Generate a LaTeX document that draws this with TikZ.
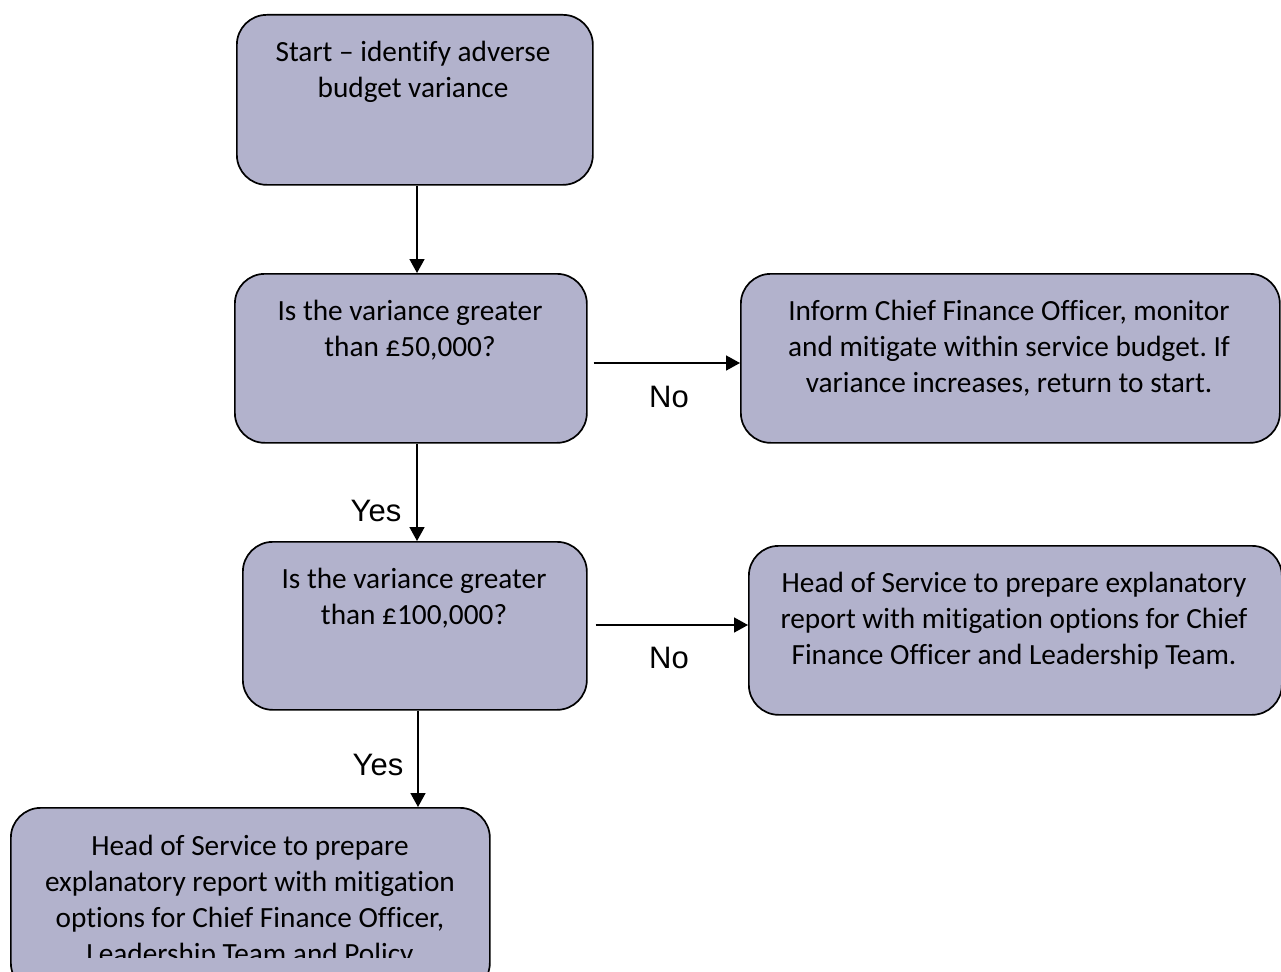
\documentclass[tikz,border=0pt]{standalone}
\usepackage{fontspec}
\setmainfont[Ligatures=NoCommon]{Carlito}
\newfontfamily\arialfont{Liberation Sans}
\usetikzlibrary{arrows.meta}
\definecolor{boxfill}{RGB}{178,178,204}
\frenchspacing
\tikzset{
 box/.style={draw=black, line width=1.7pt, fill=boxfill, rounded corners=30pt, inner sep=0, anchor=north west},
 btext/.style={font=\fontsize{29.3}{36}\selectfont, align=center, anchor=north, inner sep=0},
 lbl/.style={font=\arialfont\fontsize{31}{36}\selectfont, inner sep=0, anchor=base},
 arr/.style={-{Triangle[length=14pt,width=15pt]}, line width=1.6pt}
}
\begin{document}
\begin{tikzpicture}[x=1pt,y=-1pt]
\useasboundingbox (0,0) rectangle (1281,971);
\clip (0,0) rectangle (1281,971);
% boxes
\node[box, minimum width=356pt, minimum height=170pt] (start) at (236,14) {};
\node[box, minimum width=352pt, minimum height=169pt] (q1) at (234,273) {};
\node[box, minimum width=539pt, minimum height=169pt] (inf) at (740,273) {};
\node[box, minimum width=344pt, minimum height=168pt] (q2) at (242,541) {};
\node[box, minimum width=533pt, minimum height=169pt] (h2) at (748,545) {};
\node[box, minimum width=479pt, minimum height=185pt] (h3) at (10,807) {};
% texts
\node[btext] (tstart) at (413,41) {Start -- identify adverse\\budget variance};
\node[btext] (tq1) at (410,300) {Is the variance greater\\than £50,000?};
\node[btext] (tinf) at (1009,300) {Inform Chief Finance Officer, monitor\\and mitigate within service budget. If\\variance increases, return to start.};
\node[btext] (tq2) at (414,568) {Is the variance greater\\than £100,000?};
\node[btext] (th2) at (1014,572) {Head of Service to prepare explanatory\\report with mitigation options for Chief\\Finance Officer and Leadership Team.};
\begin{scope}
\clip (0,0) rectangle (1281,957);
\node[btext] (th3) at (250,835) {Head of Service to prepare\\explanatory report with mitigation\\options for Chief Finance Officer,\\Leadership Team and Policy};
\end{scope}
% connectors
\coordinate (v1) at (417,0);
\coordinate (v2) at (418,0);
\coordinate (hh1) at (0,363);
\coordinate (hh2) at (0,625);
\draw[arr] (v1 |- start.south) -- (v1 |- q1.north);
\draw[arr] (v1 |- q1.south) -- (v1 |- q2.north);
\draw[arr] (v2 |- q2.south) -- (v2 |- h3.north);
\draw[arr, shorten <=6pt] (q1.east |- hh1) -- (inf.west |- hh1);
\draw[arr, shorten <=8pt] (q2.east |- hh2) -- (h2.west |- hh2);
% labels
\node[lbl] (no1) at (669,407) {No};
\node[lbl] (no2) at (669,668) {No};
\node[lbl] (yes1) at (376,521) {Yes};
\node[lbl] (yes2) at (378,775) {Yes};
\end{tikzpicture}
\end{document}
